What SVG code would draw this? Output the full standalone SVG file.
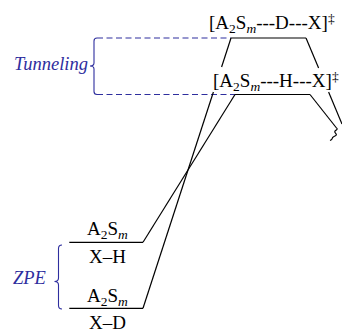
<svg xmlns="http://www.w3.org/2000/svg" width="342" height="331" viewBox="0 0 342 331">
<style>
.ln{stroke:#000;stroke-width:1.2;fill:none;stroke-linecap:butt}
.bl{stroke:#2e2e9e;stroke-width:1.1;fill:none}
.dash{stroke-dasharray:6 3.5}
.t{font-family:"Liberation Serif","Times New Roman",serif;font-size:19px;fill:#000}
.it{font-family:"Liberation Serif","Times New Roman",serif;font-size:18.5px;font-style:italic;fill:#2e2e9e}
.sub{font-size:13.5px}
</style>
<rect width="342" height="331" fill="#fff"/>
<g id="connectors">
  <path class="bl dash" d="M97,38 H231"/>
  <path class="bl dash" d="M97,94.5 H235"/>
  <path class="ln" d="M231,38 L221.6,67"/>
  <path class="ln" d="M213.4,92 L143,308.3"/>
  <path class="ln" d="M143,242.3 L235,94.5"/>
  <path class="ln" d="M306,38 L318.6,68"/>
  <path class="ln" d="M328.6,92 L342,124"/>
  <path class="ln" d="M310,94.5 L336.5,128"/>
  <path class="ln" d="M336.5,128 c2.5,2 -3,2.5 -1.5,4.5 s2.5,2.5 -1,4 s0,2.5 -4,4"/>
</g>
<g id="ts-D">
  <path class="ln" d="M231,38 H306"/>
  <text class="t" x="209" y="29">[A<tspan class="sub" dy="4">2</tspan><tspan dy="-4">S</tspan><tspan class="sub" font-style="italic" dy="4">m</tspan><tspan dy="-4">---D---X]</tspan><tspan class="sub" dy="-6">‡</tspan></text>
</g>
<g id="ts-H">
  <path class="ln" d="M235,94.5 H310"/>
  <text class="t" x="213" y="87">[A<tspan class="sub" dy="4">2</tspan><tspan dy="-4">S</tspan><tspan class="sub" font-style="italic" dy="4">m</tspan><tspan dy="-4">---H---X]</tspan><tspan class="sub" dy="-6">‡</tspan></text>
</g>
<g id="react-H">
  <path class="ln" d="M69.3,242.3 H143"/>
  <text class="t" x="87" y="235">A<tspan class="sub" dy="4">2</tspan><tspan dy="-4">S</tspan><tspan class="sub" font-style="italic" dy="4">m</tspan></text>
  <text class="t" x="89" y="262.5">X–H</text>
</g>
<g id="react-D">
  <path class="ln" d="M69.3,308.3 H143"/>
  <text class="t" x="87" y="301.5">A<tspan class="sub" dy="4">2</tspan><tspan dy="-4">S</tspan><tspan class="sub" font-style="italic" dy="4">m</tspan></text>
  <text class="t" x="89" y="328.5">X–D</text>
</g>
<g id="tunneling">
  <path class="bl" d="M97,38 Q94,38 94,41 L94,63 Q94,66 90,66 Q94,66 94,69 L94,91.5 Q94,94.5 97,94.5"/>
  <text class="it" x="14" y="69.5">Tunneling</text>
</g>
<g id="zpe">
  <path class="bl" d="M62,245 Q58.5,245 58.5,248.5 L58.5,278 Q58.5,281.5 54.5,281.5 Q58.5,281.5 58.5,285 L58.5,305.5 Q58.5,309 62,309"/>
  <text class="it" x="13" y="283.5">ZPE</text>
</g>
</svg>
